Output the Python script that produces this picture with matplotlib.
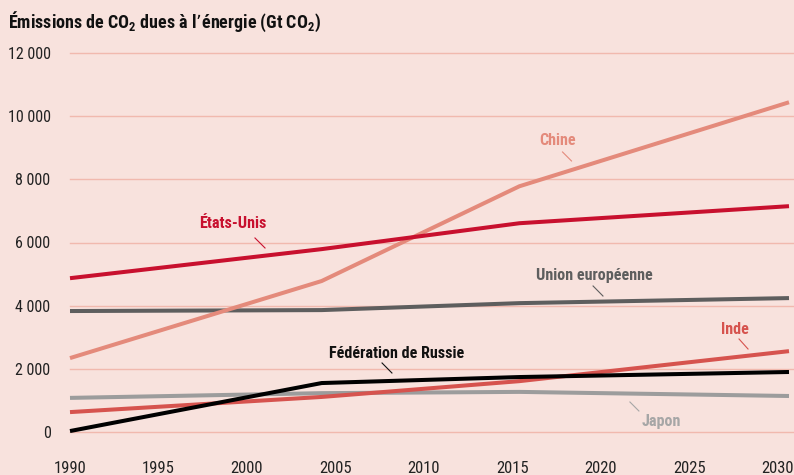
import matplotlib
matplotlib.use("Agg")
import matplotlib.pyplot as plt
import numpy as np

plt.rcParams['font.family'] = ['Roboto Condensed', 'DejaVu Sans']
plt.rcParams['mathtext.default'] = 'regular'

years = [1990, 2004, 2015, 2030]
chine = [2340, 4780, 7780, 10440]
etats_unis = [4870, 5790, 6610, 7150]
union_europeenne = [3830, 3860, 4080, 4240]
inde = [630, 1110, 1610, 2560]
russie = [30, 1550, 1740, 1900]
japon = [1080, 1230, 1270, 1140]

yticks = [0, 2000, 4000, 6000, 8000, 10000, 12000]
ytick_labels = ["0", "2 000", "4 000", "6 000", "8 000", "10 000", "12 000"]
xtick_labels = ["1990", "1995", "2000", "2005", "2010", "2015", "2020", "2025", "2030"]

bg = "#f8e2dd"
grid_c = "#f1b9ae"

series = [
    ("Chine", chine, "#e48a7b", "#e48a7b", (2017.15, 9214), ((2017.4, 8866), (2017.9, 8581))),
    ("États-Unis", etats_unis, "#c8102e", "#c8102e", (1999.07, 6586), ((2000.29, 6143), (2000.85, 5826))),
    ("Union européenne", union_europeenne, "#5e5e5e", "#5e5e5e", (2019.15, 4940), ((2019.1, 4623), (2019.65, 4306))),
    ("Inde", inde, "#d6534e", "#d6534e", (2026.99, 3261), ((2027.22, 2945), (2027.72, 2628))),
    ("Fédération de Russie", russie, "#000000", "#111111", (2008.19, 2501), ((2007.36, 2185), (2007.91, 1868))),
    ("Japon", japon, "#9c9c9c", "#a6a6a6", (2022.88, 317), ((2021.15, 950), (2021.65, 665))),
]

fig = plt.figure(figsize=(7.94, 4.75), dpi=100, facecolor=bg)
ax = fig.add_axes([70/794, 43/475, 719/794, 379/475], facecolor=bg)
ax.set_xlim(1990, 2030)
ax.set_ylim(0, 12000)

for v in yticks:
    ax.plot([1990, 2030.2], [v, v], color=grid_c, lw=1.0, zorder=1, clip_on=False)

order = ["Japon", "Union européenne", "Inde", "Fédération de Russie", "Chine", "États-Unis"]
for name, vals, col, tcol, lpos, lead in series:
    z = 3 + order.index(name)
    ax.plot(years, vals, color=col, lw=2.9, solid_capstyle='butt', zorder=z, clip_on=False)
    ax.text(lpos[0], lpos[1], name, color=tcol, fontsize=11.6, fontweight='bold',
            ha='center', va='center', zorder=10)
    ax.plot([lead[0][0], lead[1][0]], [lead[0][1], lead[1][1]], color=tcol, lw=0.8, zorder=10)

for s in ax.spines.values():
    s.set_visible(False)

ax.set_yticks(yticks)
ax.set_yticklabels(ytick_labels, fontsize=11.5, color="#222222")
xt = [1990 + k * 5 * (88.5 / 89.9) for k in range(len(xtick_labels))]
ax.set_xticks(xt)
ax.set_xticklabels(xtick_labels, fontsize=12, color="#222222")
ax.tick_params(axis='y', length=0, pad=14)
ax.tick_params(axis='x', length=0, pad=21)

fig.text(8/794, 1 - 22/475, "Émissions de CO$_2$ dues à l’énergie (Gt CO$_2$)",
         fontsize=13, fontweight='bold', ha='left', va='center', color="#111111")

fig.savefig("out.png", dpi=100, facecolor=bg)
